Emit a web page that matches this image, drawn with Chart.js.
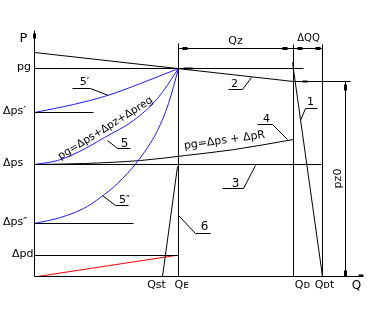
<!DOCTYPE html>
<html>
<head>
<meta charset="utf-8">
<script src="https://cdn.jsdelivr.net/npm/chart.js@4"></script>
<style>
  html, body { margin: 0; padding: 0; background: #fff; }
  canvas { display: block; }
</style>
</head>
<body>
<canvas id="chart" width="369" height="310"></canvas>
<script>
// ===== data (Q along the bottom, P up the side, diagram units) =====
const levelNames = ['pg', 'Δps′', 'Δps', 'Δps″', 'Δpd'];
const levelValues = [208, 164, 112, 53, 21];
const levelEnds = [269, 59, 287, 99, 144];

const flowNames = ['Qst', 'Qᴇ', 'Qᴅ', 'Qᴅt'];
const flowValues = [128, 144, 259, 288];
const flowTops = [0, 233, 232, 232];

const pz0 = 195;
const dimLevel = 228;

// blue pump curves 5', 5, 5''
const curve5aQ = [0, 20, 39, 73, 106, 144];
const curve5aP = [164, 168, 172, 181, 193, 208];
const curve5Q = [0, 23, 45, 70, 99, 123, 144];
const curve5P = [112, 116, 125, 139, 156, 178, 208];
const curve5bQ = [0, 26, 49, 66, 83, 103, 123, 134, 144];
const curve5bP = [53, 59, 68, 79, 93, 115, 146, 173, 208];

// system curve 4, line 2, line 1, line 6, red line
const line4Q = [0, 50, 106, 151, 200, 259];
const line4P = [112, 113, 116, 121, 127, 137];
const line2Q = [0, 259];
const line2P = [224, 195];
const line1Q = [258, 288];
const line1P = [214, 0];
const line6Q = [128, 143];
const line6P = [0, 110];
const redQ = [3, 141];
const redP = [0, 21];

const axisQmax = 329;
const axisPmax = 246;

// ===== helpers =====
const pts = (qs, ps) => qs.map((q, i) => ({ x: q, y: ps[i] }));
function line(data, color = '#000', width = 1, smooth = false) {
  return {
    data, borderColor: color, borderWidth: width, showLine: true, pointRadius: 0, fill: false,
    cubicInterpolationMode: smooth ? 'monotone' : 'default', tension: 0,
  };
}

const datasets = [];

// axes
datasets.push(line([{ x: 0, y: 0 }, { x: 0, y: axisPmax }]));
datasets.push(line([{ x: 0, y: 0 }, { x: axisQmax, y: 0 }]));
datasets.push(line([{ x: 0, y: axisPmax - 8 }, { x: 0, y: axisPmax - 3 }], '#000', 3));
datasets.push(line([{ x: axisQmax - 5, y: 1 }, { x: axisQmax, y: 1 }], '#000', 2));

// horizontal levels
levelValues.forEach((v, i) => datasets.push(line([{ x: 0, y: v }, { x: levelEnds[i], y: v }])));
datasets.push(line([{ x: flowValues[2], y: pz0 }, { x: 316, y: pz0 }]));

// vertical flows
flowValues.forEach((v, i) => { if (flowTops[i]) datasets.push(line([{ x: v, y: 0 }, { x: v, y: flowTops[i] }])); });

// dimension lines Qz / dQQ and pz0
datasets.push(line([{ x: flowValues[1], y: dimLevel }, { x: flowValues[3], y: dimLevel }]));
[[148, 153], [248, 253], [263, 268], [281, 286]].forEach(([a, b]) =>
  datasets.push(line([{ x: a, y: dimLevel }, { x: b, y: dimLevel }], '#000', 3)));
datasets.push(line([{ x: 311, y: 0 }, { x: 311, y: pz0 }]));
datasets.push(line([{ x: 311, y: pz0 - 9 }, { x: 311, y: pz0 - 3 }], '#000', 3));
datasets.push(line([{ x: 311, y: 0 }, { x: 311, y: 6 }], '#000', 3));
datasets.push(line([{ x: 268, y: pz0 }, { x: 273, y: pz0 }], '#000', 2));
datasets.push(line([{ x: 149, y: levelValues[0] }, { x: 158, y: levelValues[0] }], '#000', 2));

// curves
datasets.push(line(pts(curve5aQ, curve5aP), '#1a1aff', 1, true));
datasets.push(line(pts(curve5Q, curve5P), '#1a1aff', 1, true));
datasets.push(line(pts(curve5bQ, curve5bP), '#1a1aff', 1, true));
datasets.push(line(pts(line4Q, line4P), '#000', 1, true));
datasets.push(line(pts(line2Q, line2P)));
datasets.push(line(pts(line1Q, line1P)));
datasets.push(line(pts(line6Q, line6P)));
datasets.push(line(pts(redQ, redP), '#ff0000'));

// leaders for the curve numbers
const leaders = [
  [[38, 188], [56, 188], [74, 181]],
  [[73, 136], [83, 128], [96, 128]],
  [[68, 81], [81, 71], [94, 71]],
  [[217, 199], [208, 187], [194, 187]],
  [[266, 156], [271, 168], [283, 168]],
  [[223, 152], [238, 152], [253, 137]],
  [[221, 111], [209, 88], [188, 88]],
  [[144, 61], [161, 43], [176, 43]],
];
leaders.forEach(l => datasets.push(line(l.map(([x, y]) => ({ x, y })))));

// text annotations
const labels = [
  { text: 'P', q: -11, p: 238, size: 13 },
  { text: 'Qz', q: 201, p: 235 },
  { text: 'ΔQQ', q: 274, p: 238, size: 10 },
  { text: 'Q', q: 322, p: -9, size: 12 },
  { text: 'pz0', q: 304, p: 98, rot: -90 },
  { text: 'pg=Δps+Δpz+Δpreg', q: 71, p: 148, rot: -32, size: 10.5 },
  { text: 'pg=Δps + ΔpR', q: 190, p: 136, rot: -8 },
  { text: '5′', q: 50, p: 194 },
  { text: '5', q: 90, p: 133, size: 12 },
  { text: '5″', q: 90, p: 76 },
  { text: '2', q: 200, p: 192 },
  { text: '1', q: 276, p: 174 },
  { text: '4', q: 232, p: 157 },
  { text: '3', q: 201, p: 93, size: 12 },
  { text: '6', q: 170, p: 50, size: 12 },
];
levelNames.forEach((n, i) => labels.push({ text: n, q: -34, p: levelValues[i] + 1, align: 'left', lx: i === 0 || i === 4 }));
[-6, 3, 9, 2].forEach((d, i) => labels.push({ text: flowNames[i], q: flowValues[i] + d, p: -9 }));

const textPlugin = {
  id: 'texts',
  afterDatasetsDraw(chart) {
    const { ctx, scales: { x, y } } = chart;
    labels.forEach(l => {
      ctx.save();
      let px = x.getPixelForValue(l.q);
      if (l.align === 'left') px = l.lx ? (l.text === 'pg' ? 17 : 12) : 3;
      ctx.translate(px, y.getPixelForValue(l.p));
      if (l.rot) ctx.rotate(l.rot * Math.PI / 180);
      ctx.font = `${l.size || 11}px "DejaVu Sans"`;
      ctx.fillStyle = '#000';
      ctx.textAlign = l.align || 'center';
      ctx.textBaseline = 'middle';
      ctx.fillText(l.text, 0, 0);
      ctx.restore();
    });
  }
};

new Chart(document.getElementById('chart'), {
  type: 'scatter',
  data: { datasets },
  options: {
    responsive: false,
    animation: false,
    devicePixelRatio: 1,
    layout: { padding: 0 },
    plugins: { legend: { display: false }, tooltip: { enabled: false } },
    scales: {
      x: { type: 'linear', display: false, min: -34.5, max: 334.5 },
      y: { type: 'linear', display: false, min: -33.5, max: 276.5 },
    },
  },
  plugins: [textPlugin],
});
</script>
</body>
</html>
